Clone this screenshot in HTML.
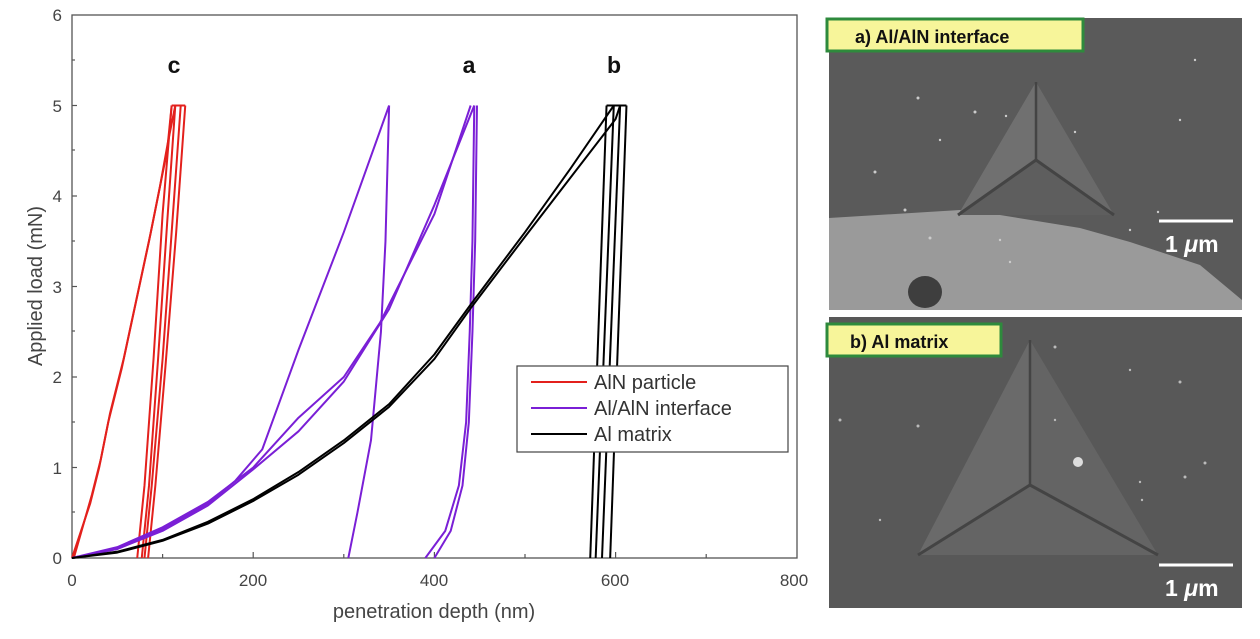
<!DOCTYPE html>
<html><head><meta charset="utf-8"><style>
body{margin:0;background:#fff;width:1260px;height:634px;overflow:hidden;font-family:"Liberation Sans",sans-serif}
</style></head><body>
<svg width="1260" height="634" viewBox="0 0 1260 634" xmlns="http://www.w3.org/2000/svg" font-family="Liberation Sans, sans-serif">
<!-- axes -->
<rect x="72" y="15" width="725" height="543" fill="none" stroke="#555" stroke-width="1.3"/>
<g stroke="#555" stroke-width="1.2">
<line x1="72" y1="467.5" x2="77" y2="467.5"/><line x1="72" y1="377" x2="77" y2="377"/><line x1="72" y1="286.5" x2="77" y2="286.5"/><line x1="72" y1="196" x2="77" y2="196"/><line x1="72" y1="105.5" x2="77" y2="105.5"/>
<line x1="72" y1="512" x2="75" y2="512"/><line x1="72" y1="422" x2="75" y2="422"/><line x1="72" y1="331" x2="75" y2="331"/><line x1="72" y1="241" x2="75" y2="241"/><line x1="72" y1="150" x2="75" y2="150"/><line x1="72" y1="60" x2="75" y2="60"/>
<line x1="162.6" y1="558" x2="162.6" y2="554"/><line x1="253.2" y1="558" x2="253.2" y2="552"/><line x1="343.8" y1="558" x2="343.8" y2="554"/><line x1="434.4" y1="558" x2="434.4" y2="552"/><line x1="525" y1="558" x2="525" y2="554"/><line x1="615.6" y1="558" x2="615.6" y2="552"/><line x1="706.2" y1="558" x2="706.2" y2="554"/>
</g>
<g font-size="17" fill="#444" text-anchor="end">
<text x="62" y="564">0</text><text x="62" y="474">1</text><text x="62" y="383">2</text><text x="62" y="293">3</text><text x="62" y="202">4</text><text x="62" y="112">5</text><text x="62" y="21">6</text>
</g>
<g font-size="17" fill="#444" text-anchor="middle">
<text x="72" y="586">0</text><text x="253" y="586">200</text><text x="434" y="586">400</text><text x="615" y="586">600</text><text x="794" y="586">800</text>
</g>
<text x="434" y="618" font-size="20" fill="#444" text-anchor="middle">penetration depth (nm)</text>
<text transform="translate(42,286) rotate(-90)" font-size="20" fill="#444" text-anchor="middle">Applied load (mN)</text>
<g font-size="23" font-weight="bold" fill="#111" text-anchor="middle">
<text x="174" y="73">c</text><text x="469" y="73">a</text><text x="614" y="73">b</text>
</g>
<g transform="translate(72,558) scale(0.906,-90.5)" fill="none" stroke-width="2" stroke-linejoin="round">
<g stroke="#e3201c">
<polyline vector-effect="non-scaling-stroke" points="0,0 10,0.3 20,0.6 30,1 40,1.5 55,2.1 70,2.8 85,3.5 95,4 105,4.5 110,5"/>
<polyline vector-effect="non-scaling-stroke" points="2,0 12,0.35 22,0.7 32,1.1 42,1.6 57,2.2 72,2.9 87,3.6 97,4.1 106,4.6 114,5"/>
<polyline vector-effect="non-scaling-stroke" points="110,5 100,3.8 90,2.2 80,0.8 72,0"/>
<polyline vector-effect="non-scaling-stroke" points="114,5 105,3.7 95,2.2 85,0.8 77,0"/>
<polyline vector-effect="non-scaling-stroke" points="120,5 110,3.6 100,2.2 88,0.8 80,0"/>
<polyline vector-effect="non-scaling-stroke" points="125,5 115,3.6 103,2.1 92,0.8 84,0"/>
<line vector-effect="non-scaling-stroke" x1="110" y1="5" x2="125" y2="5"/>
</g>
<g stroke="#7a1fd6">
<polyline vector-effect="non-scaling-stroke" points="0,0 50,0.1 100,0.32 150,0.6 180,0.85 210,1.2 250,2.3 300,3.6 350,5"/>
<polyline vector-effect="non-scaling-stroke" points="0,0 50,0.12 100,0.34 150,0.62 200,1 250,1.55 300,2.0 340,2.6 400,3.8 440,5"/>
<polyline vector-effect="non-scaling-stroke" points="0,0 50,0.1 100,0.3 150,0.58 200,0.98 250,1.4 300,1.95 350,2.75 400,3.9 444,5"/>
<polyline vector-effect="non-scaling-stroke" points="350,5 346,3.5 341,2.5 330,1.3 315,0.5 305,0"/>
<polyline vector-effect="non-scaling-stroke" points="444,5 442,3.5 439,2.5 435,1.5 427,0.8 412,0.3 390,0"/>
<polyline vector-effect="non-scaling-stroke" points="447,5 445,3.5 442,2.5 438,1.5 431,0.8 418,0.3 400,0"/>
</g>
<g stroke="#000">
<polyline vector-effect="non-scaling-stroke" points="0,0 50,0.07 100,0.2 150,0.4 200,0.65 250,0.95 300,1.3 350,1.7 400,2.25 440,2.8 500,3.6 550,4.3 598,5"/>
<polyline vector-effect="non-scaling-stroke" points="0,0 50,0.06 100,0.19 150,0.38 200,0.63 250,0.92 300,1.27 350,1.67 400,2.2 440,2.76 500,3.55 550,4.2 600,4.85 605,5"/>
<polyline vector-effect="non-scaling-stroke" points="590,5 572,0"/>
<polyline vector-effect="non-scaling-stroke" points="598,5 578,0"/>
<polyline vector-effect="non-scaling-stroke" points="605,5 585,0"/>
<polyline vector-effect="non-scaling-stroke" points="612,5 594,0"/>
<line vector-effect="non-scaling-stroke" x1="590" y1="5" x2="612" y2="5"/>
</g>
</g>
<!-- legend -->
<rect x="517" y="366" width="271" height="86" fill="#fff" stroke="#444" stroke-width="1.2"/>
<g stroke-width="2"><line x1="531" y1="382" x2="587" y2="382" stroke="#e3201c"/><line x1="531" y1="408" x2="587" y2="408" stroke="#7a1fd6"/><line x1="531" y1="434" x2="587" y2="434" stroke="#000"/></g>
<g font-size="20" fill="#333"><text x="594" y="389">AlN particle</text><text x="594" y="415">Al/AlN interface</text><text x="594" y="441">Al matrix</text></g>
<!-- SEM panel a -->
<rect x="829" y="18" width="413" height="292" fill="#5a5a5a"/>
<polygon points="829,218 960,210 1000,215 1080,228 1130,242 1200,265 1242,300 1242,310 829,310" fill="#9a9a9a"/>
<polygon points="958,215 1036,82 1114,215" fill="#6a6a6a"/>
<polygon points="958,215 1036,82 1036,160" fill="#707070"/>
<polygon points="958,215 1036,160 1114,215" fill="#5e5e5e"/>
<polyline points="958,215 1036,160 1114,215" fill="none" stroke="#444" stroke-width="3"/>
<line x1="1036" y1="82" x2="1036" y2="160" stroke="#444" stroke-width="2.5"/>
<ellipse cx="925" cy="292" rx="17" ry="16" fill="#3e3e3e"/>
<g fill="#ccc">
<circle cx="918" cy="98" r="1.5"/><circle cx="975" cy="112" r="1.5"/><circle cx="940" cy="140" r="1.2"/><circle cx="1006" cy="116" r="1.2"/><circle cx="1075" cy="132" r="1.2"/><circle cx="1180" cy="120" r="1.2"/><circle cx="1195" cy="60" r="1.2"/><circle cx="875" cy="172" r="1.5"/><circle cx="905" cy="210" r="1.5"/><circle cx="930" cy="238" r="1.5"/><circle cx="1000" cy="240" r="1.2"/><circle cx="1010" cy="262" r="1.2"/><circle cx="1130" cy="230" r="1.2"/><circle cx="1158" cy="212" r="1.2"/>
</g>
<line x1="1159" y1="221" x2="1233" y2="221" stroke="#fff" stroke-width="3"/>
<text x="1165" y="252" font-size="23" font-weight="bold" fill="#fff">1 <tspan font-style="italic">μ</tspan>m</text>
<rect x="827" y="19" width="256" height="32" fill="#f7f59a" stroke="#2e8a3c" stroke-width="3"/>
<text x="855" y="43" font-size="18" font-weight="bold" fill="#111">a) Al/AlN interface</text>
<!-- SEM panel b -->
<rect x="829" y="317" width="413" height="291" fill="#585858"/>
<polygon points="918,555 1030,340 1158,555" fill="#646464"/>
<polygon points="918,555 1030,340 1030,485" fill="#6a6a6a"/>
<polyline points="918,555 1030,485 1158,555" fill="none" stroke="#444" stroke-width="3"/>
<line x1="1030" y1="340" x2="1030" y2="485" stroke="#444" stroke-width="2.5"/>
<circle cx="1078" cy="462" r="5" fill="#ddd"/>
<g fill="#bbb">
<circle cx="840" cy="420" r="1.5"/><circle cx="918" cy="426" r="1.5"/><circle cx="1055" cy="347" r="1.5"/><circle cx="1130" cy="370" r="1.2"/><circle cx="1180" cy="382" r="1.5"/><circle cx="1205" cy="463" r="1.5"/><circle cx="1185" cy="477" r="1.5"/><circle cx="1140" cy="482" r="1.2"/><circle cx="1142" cy="500" r="1.2"/><circle cx="1055" cy="420" r="1.2"/><circle cx="880" cy="520" r="1.2"/>
</g>
<line x1="1159" y1="565" x2="1233" y2="565" stroke="#fff" stroke-width="3"/>
<text x="1165" y="596" font-size="23" font-weight="bold" fill="#fff">1 <tspan font-style="italic">μ</tspan>m</text>
<rect x="827" y="324" width="174" height="32" fill="#f7f59a" stroke="#2e8a3c" stroke-width="3"/>
<text x="850" y="348" font-size="18" font-weight="bold" fill="#111">b) Al matrix</text>
</svg>
</body></html>
